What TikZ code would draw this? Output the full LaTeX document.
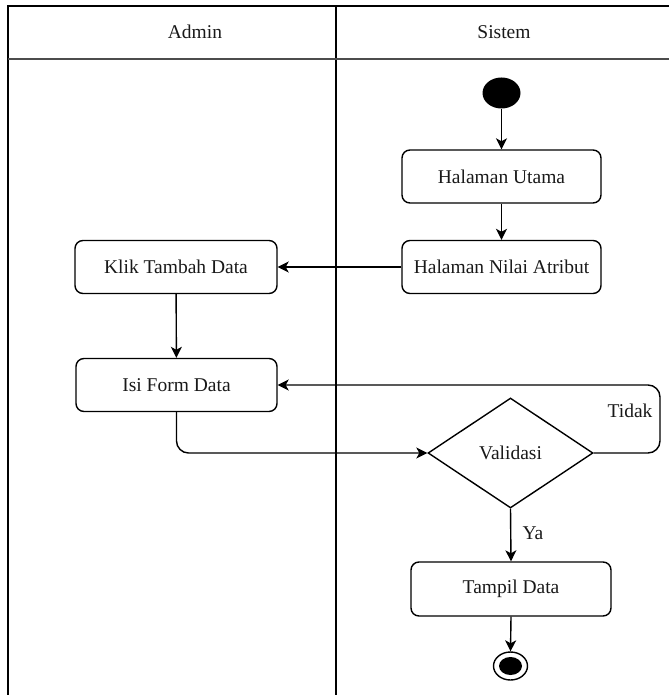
\documentclass[tikz,border=0pt]{standalone}
\usepackage{fontspec}
\setmainfont{Liberation Serif}
\usetikzlibrary{shapes.geometric,arrows.meta}
\begin{document}
\begin{tikzpicture}[x=1pt,y=-1pt,
  every node/.style={font=\fontsize{19.5}{22}\selectfont, text=black!90},
  act/.style={draw, line width=1.4pt, rounded corners=8pt, minimum height=53pt, inner sep=0pt},
  flow/.style={line width=1.4pt, -{Stealth[length=11pt,width=11pt,inset=3pt]}},
  lane/.style={line width=1.7pt},
  decision/.style={draw, diamond, line width=1.4pt, minimum width=165pt, minimum height=110pt, inner sep=0pt}
]
\useasboundingbox (0,0) rectangle (669,695);
% swimlane frame
\draw[lane] (8,695) -- (8,6) -- (669,6);
\draw[lane] (336,6) -- (336,695);
\draw[line width=2.6pt, black!70] (8,59) -- (669,59);
\node (admin) at (195,32) {Admin};
\node (sistem) at (504,32) {Sistem};

% start
\node[ellipse, fill=black, minimum width=38pt, minimum height=31pt, inner sep=0pt] (start) at (501.5,93) {};
% activities
\node[act, minimum width=199pt] (hu) at (501.5,176.5) {Halaman Utama};
\node[act, minimum width=199pt] (na) at (501.5,267) {Halaman Nilai Atribut};
\node[act, minimum width=202pt] (klik) at (176,267) {Klik Tambah Data};
\node[act, minimum width=201pt] (isi) at (176.5,385) {Isi Form Data};
\node[decision] (val) at (510.5,453) {Validasi};
\node[act, minimum width=200pt, minimum height=54pt] (tampil) at (511,589) {Tampil Data};
% end
\node[ellipse, draw, line width=1.4pt, minimum width=34pt, minimum height=28pt, inner sep=0pt] (stop) at (510.5,666) {};
\node[ellipse, fill=black, minimum width=23pt, minimum height=18pt, inner sep=0pt] (stopdot) at (stop.center) {};

\coordinate (loopx) at (660,0);

% flows
\draw[flow] (start) -- (hu);
\draw[flow] (hu) -- (na);
\draw[flow] (na.west) -- (klik.east);
\draw[flow] (klik) -- (isi);
\draw[flow, rounded corners=12pt] (isi.south) |- (val.west);
\draw[flow, rounded corners=12pt] (val.east) -- (val.east -| loopx) |- (isi.east);
\draw[flow] (val.south) -- (tampil.north);
\draw[flow] (tampil.south) -- (stop.north);

% guards
\node (tidak) at (630,411) {Tidak};
\node (ya) at (533,533) {Ya};
\end{tikzpicture}
\end{document}
